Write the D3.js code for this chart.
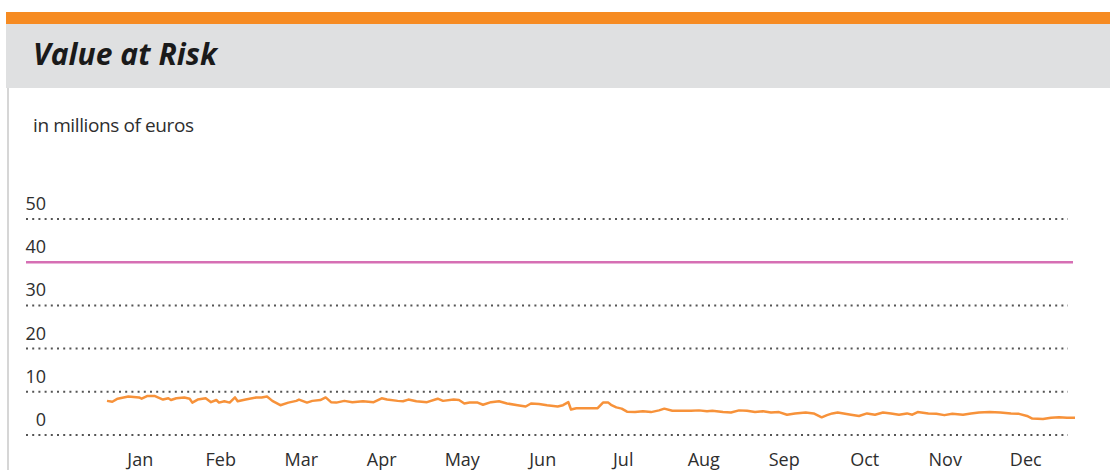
<!DOCTYPE html>
<html>
<head>
<meta charset="utf-8">
<script src="https://cdn.jsdelivr.net/npm/d3@7"></script>
<style>
  body { margin: 0; background: #fff; }
  svg { display: block; font-family: "Open Sans", "Noto Sans", sans-serif; }
</style>
</head>
<body>
<div id="chart"></div>
<script>
// month labels on the x axis
var months = ["Jan", "Feb", "Mar", "Apr", "May", "Jun", "Jul", "Aug", "Sep", "Oct", "Nov", "Dec"];
// y tick labels (40 is replaced by the limit line)
var yTicks = [0, 10, 20, 30, 50];
var yLabels = [0, 10, 20, 30, 40, 50];
var limit = 40;

// day of year, value at risk (millions of euros)
var days = [1, 3, 5, 9, 13, 14, 16, 19, 22, 24, 25, 27, 30, 32, 33, 35, 38, 40, 42, 43,
  45, 47, 49, 50, 53, 57, 59, 61, 63, 66, 69, 72, 73, 76, 78, 81, 83, 85, 87, 90,
  93, 97, 101, 104, 106, 110, 112, 114, 117, 121, 125, 127, 131, 133, 135, 137, 140, 142, 145, 148,
  151, 155, 158, 160, 163, 166, 170, 172, 174, 175, 177, 181, 185, 187, 189, 190, 192, 194, 196, 199,
  202, 205, 208, 210, 213, 217, 220, 223, 226, 228, 232, 235, 238, 241, 244, 247, 250, 253, 256, 259,
  263, 266, 269, 271, 273, 275, 280, 283, 286, 289, 292, 295, 298, 301, 303, 305, 309, 312, 315, 318,
  322, 325, 328, 332, 336, 340, 343, 346, 348, 352, 355, 358, 361, 364];
var values = [7.9, 7.7, 8.4, 8.9, 8.7, 8.4, 9.0, 9.0, 8.2, 8.5, 8.1, 8.5, 8.7, 8.4, 7.5, 8.2, 8.5, 7.6, 8.1, 7.5,
  7.8, 7.5, 8.7, 7.8, 8.2, 8.7, 8.7, 8.9, 7.9, 6.9, 7.5, 7.9, 8.2, 7.5, 7.9, 8.1, 8.7, 7.6, 7.5, 7.9,
  7.6, 7.8, 7.6, 8.5, 8.2, 7.9, 7.8, 8.2, 7.8, 7.6, 8.4, 7.9, 8.2, 8.1, 7.3, 7.5, 7.5, 7.0, 7.6, 7.8,
  7.3, 6.9, 6.6, 7.3, 7.2, 6.9, 6.6, 6.9, 7.6, 5.9, 6.2, 6.2, 6.2, 7.5, 7.5, 7.0, 6.4, 6.1, 5.4, 5.3,
  5.5, 5.3, 5.7, 6.1, 5.6, 5.6, 5.6, 5.7, 5.5, 5.6, 5.3, 5.2, 5.7, 5.6, 5.3, 5.5, 5.2, 5.3, 4.7, 5.0,
  5.2, 5.0, 4.1, 4.6, 5.0, 5.2, 4.7, 4.4, 5.0, 4.7, 5.2, 5.0, 4.7, 5.0, 4.7, 5.3, 5.0, 4.9, 4.6, 4.9,
  4.7, 5.0, 5.2, 5.3, 5.2, 5.0, 4.9, 4.4, 3.8, 3.7, 4.0, 4.1, 4.0, 4.0];

var W = 1110, H = 470;

var svg = d3.select("#chart").append("svg")
  .attr("width", W)
  .attr("height", H);

// frame: orange bar, grey header, left border
svg.append("rect").attr("x", 6).attr("y", 12).attr("width", W - 6).attr("height", 12).attr("fill", "#f68b22");
svg.append("rect").attr("x", 6).attr("y", 24).attr("width", W - 6).attr("height", 64).attr("fill", "#dfe0e1");
svg.append("line")
  .attr("x1", 8).attr("x2", 8).attr("y1", 88).attr("y2", H)
  .style("stroke", "#d6d6d6").style("stroke-width", 2);

svg.append("text")
  .attr("x", 33).attr("y", 65)
  .style("font-size", "30px").style("font-weight", "bold").style("font-style", "italic")
  .style("fill", "#1a1a1a")
  .attr("textLength", 184)
  .text("Value at Risk");

svg.append("text")
  .attr("x", 33).attr("y", 132)
  .style("font-size", "19px").style("fill", "#2e2e2e")
  .style("letter-spacing", "-0.4px")
  .text("in millions of euros");

// scales
var y = d3.scaleLinear().domain([0, 50]).range([435, 219]);
var xDay = d3.scaleLinear().domain([1, 364]).range([107, 1075]);
var xMonth = d3.scaleBand().domain(months).range([100, 1066]);

// dotted gridlines
svg.append("g").selectAll("line")
  .data(yTicks)
  .enter()
  .append("line")
  .attr("x1", 26).attr("x2", 1068)
  .attr("y1", d => y(d)).attr("y2", d => y(d))
  .style("stroke", "#555")
  .style("stroke-width", 2)
  .style("stroke-dasharray", "2,4.2");

// limit line
svg.append("line")
  .attr("x1", 26).attr("x2", 1073)
  .attr("y1", y(limit)).attr("y2", y(limit))
  .style("stroke", "#d66fb4")
  .style("stroke-width", 2.5);

// y labels sit above their gridline
svg.append("g").selectAll("text")
  .data(yLabels)
  .enter()
  .append("text")
  .attr("x", 46)
  .attr("y", d => y(d) - 9)
  .attr("text-anchor", "end")
  .style("font-size", "18px")
  .style("fill", "#2e2e2e")
  .text(d => d);

// month labels
svg.append("g").selectAll("text")
  .data(months)
  .enter()
  .append("text")
  .attr("x", d => xMonth(d) + xMonth.bandwidth() / 2)
  .attr("y", 466)
  .attr("text-anchor", "middle")
  .style("font-size", "18px")
  .style("fill", "#2e2e2e")
  .text(d => d);

// value at risk line
var line = d3.line()
  .x((d, i) => xDay(days[i]))
  .y(d => y(d))
  .curve(d3.curveLinear);

svg.append("path")
  .datum(values)
  .attr("d", line)
  .style("fill", "none")
  .style("stroke", "#f7923a")
  .style("stroke-width", 2.5)
  .style("stroke-linejoin", "round");
</script>
</body>
</html>
